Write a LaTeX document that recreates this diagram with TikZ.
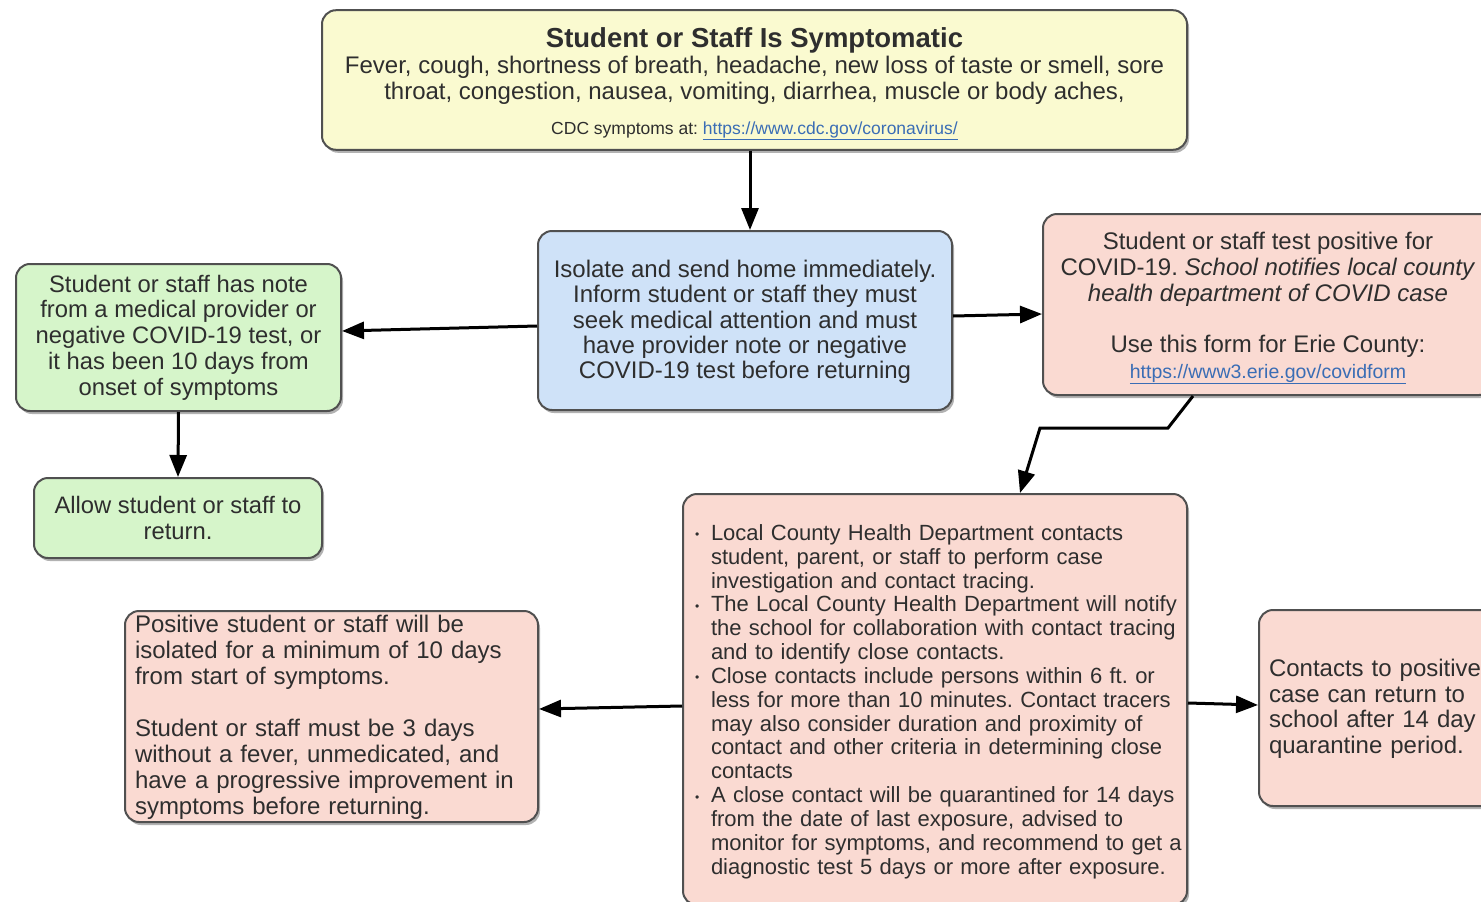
\documentclass[tikz,border=0pt]{standalone}
\usepackage{fontspec}
\setmainfont{Liberation Sans}
\usetikzlibrary{arrows.meta,shadows,calc}
\definecolor{yel}{HTML}{FAFAD0}
\definecolor{blu}{HTML}{CFE2F8}
\definecolor{grn}{HTML}{D6F5CA}
\definecolor{pnk}{HTML}{FADAD2}
\definecolor{edgec}{HTML}{505050}
\definecolor{txt}{HTML}{2E2E2E}
\definecolor{lnk}{HTML}{3A6DB5}
\frenchspacing
\newcommand\weblink[1]{\textcolor{lnk}{\underline{#1}}}
\newcommand\bul{\hspace*{2pt}\makebox[16pt][l]{\raisebox{1.5pt}{\scalebox{0.55}{\textbullet}}}}
\newcommand\ind{\hspace*{18pt}}
\newcommand\toppad[2]{\raisebox{0pt}[\dimexpr\height+#1\relax][\depth]{#2}}
\begin{document}
\begin{tikzpicture}[x=1pt,y=-1pt,
  box/.style={draw=edgec, line width=2pt, rounded corners=14pt, text=txt, inner sep=10pt,
    drop shadow={shadow xshift=2pt, shadow yshift=-3pt, opacity=0.3, fill=black}},
  arr/.style={line width=3pt, -{Triangle[length=22pt,width=17pt]}}]
\useasboundingbox (0,0) rectangle (1481,902);
\clip (0,0) rectangle (1481,902);

\node[box, fill=yel, minimum width=865pt, minimum height=136pt, align=center,
  font=\fontsize{24}{26}\selectfont] (top) at (754.5,80)
 {\toppad{7pt}{\fontsize{27.5}{28}\selectfont\bfseries Student or Staff Is Symptomatic}\\
  Fever, cough, shortness of breath, headache, new loss of taste or smell, sore\\
  throat, congestion, nausea, vomiting, diarrhea, muscle or body aches,\\[9pt]
  {\fontsize{17.5}{20}\selectfont CDC symptoms at: \weblink{https://www.cdc.gov/coronavirus/}}};

\node[box, fill=blu, minimum width=414pt, minimum height=179pt, align=center,
  font=\fontsize{24}{25.3}\selectfont] (iso) at (745,320.5)
 {\toppad{3pt}{Isolate and send home immediately.}\\
  Inform student or staff they must\\
  seek medical attention and must\\
  have provider note or negative\\
  COVID-19 test before returning};

\node[box, fill=grn, minimum width=325pt, minimum height=147pt, align=center,
  font=\fontsize{23.8}{25.75}\selectfont] (note) at (178.5,337.5)
 {Student or staff has note\\
  from a medical provider or\\
  negative COVID-19 test, or\\
  it has been 10 days from\\
  onset of symptoms};

\node[box, fill=grn, minimum width=288pt, minimum height=80pt, align=center,
  font=\fontsize{23.8}{25.75}\selectfont] (allow) at (178,518)
 {Allow student or staff to\\ return.};

\node[box, fill=pnk, minimum width=450pt, minimum height=181pt, align=center,
  font=\fontsize{24}{26}\selectfont] (pos) at (1268,304.5)
 {\toppad{7pt}{Student or staff test positive for}\\
  COVID-19. \textit{School notifies local county}\\
  \textit{health department of COVID case}\\[25pt]
  Use this form for Erie County:\\
  {\fontsize{19.5}{20}\selectfont\weblink{https://www3.erie.gov/covidform}}};

\node[box, fill=pnk, minimum width=504pt, minimum height=411pt, text width=484pt, align=left,
  inner ysep=2pt, font=\fontsize{22}{23.85}\selectfont] (trace) at (935,699.5)
 {\toppad{6pt}{\begin{tabular}{@{}l@{}}
  \bul Local County Health Department contacts\\
  \ind student, parent, or staff to perform case\\
  \ind investigation and contact tracing.\\
  \bul The Local County Health Department will notify\\
  \ind the school for collaboration with contact tracing\\
  \ind and to identify close contacts.\\
  \bul Close contacts include persons within 6 ft. or\\
  \ind less for more than 10 minutes. Contact tracers\\
  \ind may also consider duration and proximity of\\
  \ind contact and other criteria in determining close\\
  \ind contacts\\
  \bul A close contact will be quarantined for 14 days\\
  \ind from the date of last exposure, advised to\\
  \ind monitor for symptoms, and recommend to get a\\
  \ind diagnostic test 5 days or more after exposure.
 \end{tabular}}};

\node[box, fill=pnk, minimum width=413pt, minimum height=211pt, text width=393pt, align=left,
  inner ysep=0pt, font=\fontsize{24}{26}\selectfont] (iso10) at (331.5,716.5)
 {\toppad{3pt}{\begin{tabular}{@{}l@{}}
  Positive student or staff will be\\
  isolated for a minimum of 10 days\\
  from start of symptoms.\\
  \\
  Student or staff must be 3 days\\
  without a fever, unmedicated, and\\
  have a progressive improvement in\\
  symptoms before returning.
 \end{tabular}}};

\node[box, fill=pnk, minimum width=242pt, minimum height=196pt, text width=222pt, align=left,
  inner ysep=2pt, font=\fontsize{24}{25.7}\selectfont] (ret) at (1380,708)
 {\toppad{4pt}{\begin{tabular}{@{}l@{}}
  Contacts to positive\\
  case can return to\\
  school after 14 day\\
  quarantine period.
 \end{tabular}}};

\draw[arr] ($(top.south)+(-4.5,0)$) -- ($(iso.north)+(5,0)$);
\draw[arr] ($(iso.west)+(0,5.5)$) -- ($(note.east)+(0,-6.5)$);
\draw[arr] ($(iso.east)+(0,-4.5)$) -- ($(pos.west)+(0,9.5)$);
\draw[arr] (note.south) -- (allow.north);
\draw[arr] ($(pos.south)+(-75,0)$) -- ++(-25,32) -- ++(-128,0) -- ($(trace.north)+(85,0)$);
\draw[arr] ($(trace.west)+(0,6.5)$) -- ($(iso10.east)+(0,-7.5)$);
\draw[arr] ($(trace.east)+(0,3.5)$) -- ($(ret.west)+(0,-3)$);
\end{tikzpicture}
\end{document}
